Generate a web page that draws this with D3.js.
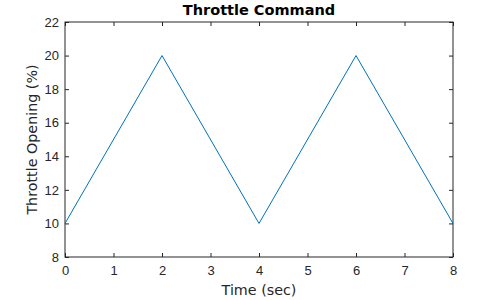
<!DOCTYPE html>
<html>
<head>
<meta charset="utf-8">
<script src="https://cdn.jsdelivr.net/npm/d3@7"></script>
<style>
  body { margin: 0; background: #fff; }
  svg { display: block; font-family: "DejaVu Sans", sans-serif; }
</style>
</head>
<body>
<svg id="chart"></svg>
<script>
const width = 500;
const height = 300;

// throttle command: triangle wave
const timeSec = [0, 2, 4, 6, 8];
const throttlePct = [10, 20, 10, 20, 10];
const xTicks = [0, 1, 2, 3, 4, 5, 6, 7, 8];
const yTicks = [8, 10, 12, 14, 16, 18, 20, 22];

const margin = { top: 22, right: 47, bottom: 43, left: 65 };
const innerW = width - margin.left - margin.right;
const innerH = height - margin.top - margin.bottom;

const svg = d3.select("#chart")
    .attr("width", width)
    .attr("height", height);

const x = d3.scaleLinear().domain([0, 8]).range([margin.left, margin.left + innerW]);
const y = d3.scaleLinear().domain([8, 22]).range([margin.top + innerH, margin.top]);

const axisColor = "#262626";
const tickLen = 4;

function styleAxis(g) {
    g.select(".domain").remove();
    g.selectAll(".tick line").attr("stroke", axisColor);
    g.selectAll(".tick text").attr("fill", axisColor).attr("font-size", 13);
}

// bottom and left axes, ticks pointing inward
svg.append("g")
    .attr("transform", `translate(0,${margin.top + innerH})`)
    .call(d3.axisBottom(x).tickValues(xTicks).tickSizeInner(-tickLen).tickPadding(9).tickFormat(d3.format("d")))
    .call(styleAxis);

svg.append("g")
    .attr("transform", `translate(${margin.left},0)`)
    .call(d3.axisLeft(y).tickValues(yTicks).tickSizeInner(-tickLen).tickPadding(6).tickFormat(d3.format("d")))
    .call(styleAxis);

// top and right ticks (box style)
svg.append("g")
    .attr("transform", `translate(0,${margin.top})`)
    .call(d3.axisTop(x).tickValues(xTicks).tickSizeInner(-tickLen).tickFormat(""))
    .call(styleAxis);

svg.append("g")
    .attr("transform", `translate(${margin.left + innerW},0)`)
    .call(d3.axisRight(y).tickValues(yTicks).tickSizeInner(-tickLen).tickFormat(""))
    .call(styleAxis);

svg.append("rect")
    .attr("x", margin.left)
    .attr("y", margin.top)
    .attr("width", innerW)
    .attr("height", innerH)
    .attr("fill", "none")
    .attr("stroke", axisColor)
    .attr("stroke-width", 1);

const line = d3.line()
    .x((d, i) => x(timeSec[i]))
    .y(d => y(d));

svg.append("path")
    .datum(throttlePct)
    .attr("fill", "none")
    .attr("stroke", "#0072BD")
    .attr("stroke-width", 1)
    .attr("d", line);

svg.append("text")
    .attr("x", margin.left + innerW / 2)
    .attr("y", 15)
    .attr("text-anchor", "middle")
    .attr("font-size", 14.5)
    .attr("font-weight", "bold")
    .attr("fill", "#000")
    .text("Throttle Command");

svg.append("text")
    .attr("x", margin.left + innerW / 2)
    .attr("y", 295)
    .attr("text-anchor", "middle")
    .attr("font-size", 14.3)
    .attr("fill", axisColor)
    .text("Time (sec)");

svg.append("text")
    .attr("transform", `translate(37,${margin.top + innerH / 2}) rotate(-90)`)
    .attr("text-anchor", "middle")
    .attr("font-size", 14.3)
    .attr("fill", axisColor)
    .text("Throttle Opening (%)");
</script>
</body>
</html>
